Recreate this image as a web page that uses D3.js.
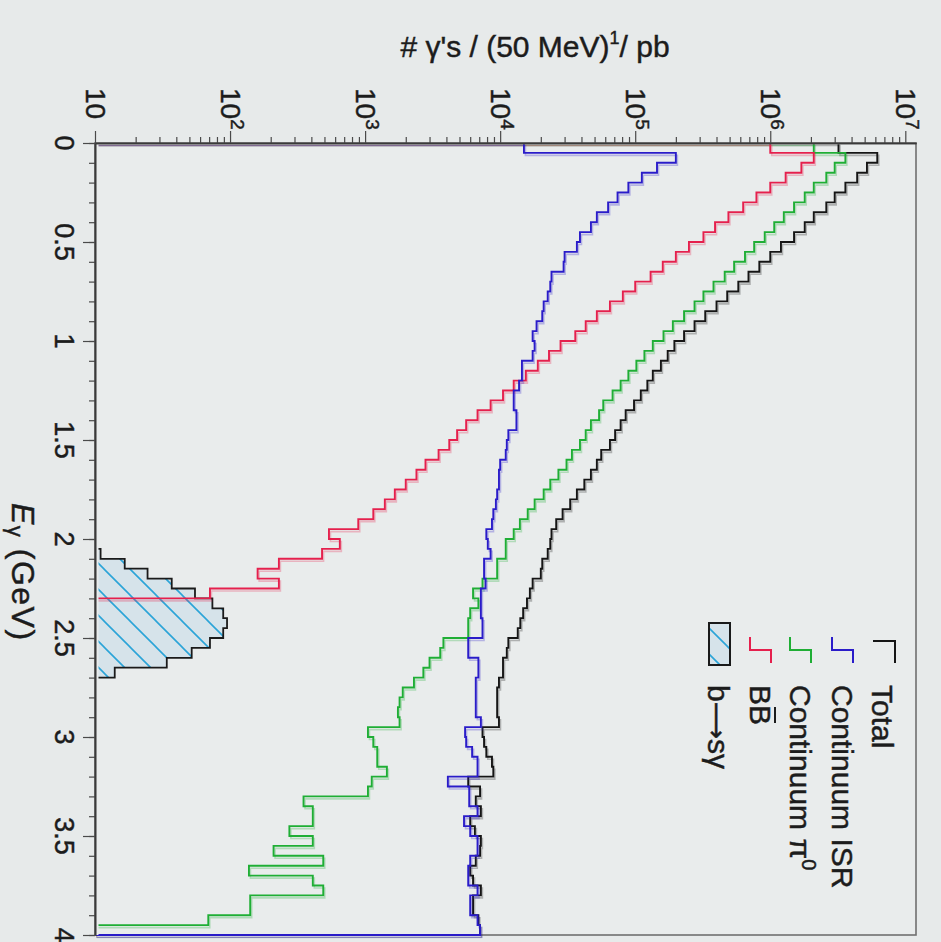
<!DOCTYPE html>
<html>
<head>
<meta charset="utf-8">
<script src="https://cdn.jsdelivr.net/npm/d3@7"></script>
<style>
  body { margin: 0; background: #e7eaea; }
  text { font-family: "Liberation Sans", Arial, Helvetica, sans-serif; fill: #1c1c1c; stroke: #1c1c1c; stroke-width: 0.45px; }
  .axis .domain { stroke: #3a3a3a; stroke-width: 1.6px; }
  .axis .tick line { stroke: #4a4a4a; stroke-width: 1.2px; }
</style>
</head>
<body>
<div id="chart"></div>
<script>
// 80 bins of 50 MeV, E_gamma from 0 to 4 GeV. (photons / 50 MeV / pb).
var binWidth = 0.05;
var nBins = 80;

var total = [3.2e6, 6.2e6, 5.2e6, 4.4e6, 3.6e6, 3.0e6, 2.6e6, 2.1e6, 1.8e6, 1.5e6,
  1.2e6, 1.0e6, 8.3e5, 6.9e5, 5.8e5, 4.8e5, 4.0e5, 3.3e5, 2.75e5, 2.3e5,
  1.95e5, 1.74e5, 1.55e5, 1.35e5, 1.23e5, 1.1e5, 9.8e4, 8.5e4, 7.8e4, 7.1e4,
  6.5e4, 5.6e4, 5.2e4, 4.7e4, 4.2e4, 3.7e4, 3.3e4, 2.9e4, 2.6e4, 2.4e4,
  2.35e4, 2.25e4, 2.05e4, 2.0e4, 1.74e4, 1.66e4, 1.58e4, 1.48e4, 1.41e4, 1.35e4,
  1.15e4, 1.12e4, 1.05e4, 1.05e4, 9800, 9500, 9500, 9500, 9800, 7400,
  7600, 7900, 8700, 8900, 5800, 7100, 6600, 7200, 6000, 6500,
  7200, 7100, 6600, 6000, 6300, 7200, 6300, 6300, 6900, 7100];

var contISR = [1.5e4, 2.0e5, 1.45e5, 1.12e5, 8.9e4, 7.4e4, 6.3e4, 5.2e4, 4.7e4, 3.9e4,
  3.7e4, 3.0e4, 2.95e4, 2.4e4, 2.35e4, 2.25e4, 2.1e4, 2.05e4, 1.86e4, 1.74e4,
  1.8e4, 1.74e4, 1.45e4, 1.45e4, 1.38e4, 1.26e4, 1.26e4, 1.32e4, 1.32e4, 1.15e4,
  1.12e4, 1.1e4, 1.0e4, 9800, 9800, 9500, 9300, 8900, 8700, 7900,
  8100, 8500, 7600, 7600, 7800, 7200, 7200, 7200, 7400, 7400,
  5800, 5800, 6900, 6900, 6600, 6600, 6600, 6600, 7200, 5500,
  5600, 6200, 6800, 6800, 4100, 5900, 5900, 6800, 5400, 6000,
  6800, 6800, 6000, 5800, 5800, 6800, 6000, 6000, 6800, 7100];

var contPi0 = [2.1e6, 3.6e6, 3.0e6, 2.6e6, 2.1e6, 1.8e6, 1.5e6, 1.26e6, 1.07e6, 9.1e5,
  7.6e5, 6.5e5, 5.4e5, 4.6e5, 3.8e5, 3.2e5, 2.75e5, 2.3e5, 1.9e5, 1.62e5,
  1.35e5, 1.17e5, 1.02e5, 8.9e4, 7.8e4, 6.8e4, 5.8e4, 5.4e4, 4.7e4, 4.3e4,
  3.9e4, 3.4e4, 3.1e4, 2.7e4, 2.35e4, 2.1e4, 1.8e4, 1.6e4, 1.4e4, 1.26e4,
  1.1e4, 1.1e4, 9500, 9500, 7400, 6300, 6900, 6000, 5800, 5800,
  3800, 3600, 3000, 2700, 2300, 1900, 1800, 1750, 1800, 1050,
  1150, 1230, 1230, 1450, 1120, 1050, 350, 410, 410, 275,
  410, 210, 490, 138, 410, 490, 141, 141, 69, 0];

// BB-bar: bins after the end of the list are empty
var bbbar = [1.0e6, 2.1e6, 1.7e6, 1.3e6, 1.0e6, 7.9e5, 6.3e5, 4.9e5, 3.9e5, 3.2e5,
  2.5e5, 2.0e5, 1.6e5, 1.3e5, 1.0e5, 8.1e4, 6.5e4, 5.2e4, 4.3e4, 3.6e4,
  2.8e4, 2.3e4, 1.9e4, 1.55e4, 1.26e4, 1.05e4, 8500, 6800, 5600, 4800,
  4200, 3500, 2800, 2400, 2000, 1660, 1400, 1150, 890, 540,
  650, 480, 230, 160, 230, 71];

// b -> s gamma signal, non-empty bins start at bin 41 (2.05 GeV)
var bsgFirstBin = 41;
var bsg = [11, 16.6, 24.5, 37, 55, 74, 89, 95, 89, 71, 52, 34, 14];

var decadeTicks = [10, 1e2, 1e3, 1e4, 1e5, 1e6, 1e7];
var decadeExp = ["", "2", "3", "4", "5", "6", "7"];
var eTicks = [0, 0.5, 1, 1.5, 2, 2.5, 3, 3.5, 4];
var eTickLabels = ["0", "0.5", "1", "1.5", "2", "2.5", "3", "3.5", "4"];

var W = 941, H = 942;
var fLeft = 95, fRight = 916, fTop = 143, fBottom = 935;
var yMin = 10, yMax = 1.2e7;

var svg = d3.select("#chart").append("svg")
  .attr("width", W)
  .attr("height", H);

svg.append("rect").attr("width", W).attr("height", H).attr("fill", "#e7eaea");

var x = d3.scaleLog().domain([yMin, yMax]).range([fLeft, fRight]);
var y = d3.scaleLinear().domain([0, 4]).range([fTop, fBottom]);

function xv(v) {
  if (!(v > yMin)) return x(yMin);
  return x(Math.min(v, yMax));
}

function getBin(arr, i, first) {
  first = first || 0;
  var k = i - first;
  return (k >= 0 && k < arr.length) ? arr[k] : 0;
}

// step outline, drawn sideways: energy runs down, counts run right
function histPoints(arr, first) {
  var pts = [[x(yMin), y(0)]];
  for (var i = 0; i < nBins; i++) {
    var v = getBin(arr, i, first);
    pts.push([xv(v), y(i * binWidth)]);
    pts.push([xv(v), y((i + 1) * binWidth)]);
  }
  pts.push([x(yMin), y(4)]);
  return pts;
}

var line = d3.line();

var defs = svg.append("defs");
var pat = defs.append("pattern")
  .attr("id", "hatch")
  .attr("patternUnits", "userSpaceOnUse")
  .attr("width", 26).attr("height", 26)
  .attr("patternTransform", "translate(0,-3)");
pat.append("rect").attr("width", 26).attr("height", 26).attr("fill", "#d6e3ea");
pat.append("path").attr("d", "M-2,-2L28,28M-2,24L2,28M24,-2L28,2")
  .attr("stroke", "#2ba4d8").attr("stroke-width", 1.6);

// keep the sideways histograms off the two axis lines, but let them show on the bottom edge
defs.append("clipPath").attr("id", "plotclip")
  .append("rect")
  .attr("x", fLeft + 1.2).attr("y", fTop + 1.2)
  .attr("width", fRight - fLeft).attr("height", fBottom - fTop + 2);

// frame
svg.append("rect")
  .attr("x", fLeft).attr("y", fTop)
  .attr("width", fRight - fLeft).attr("height", fBottom - fTop)
  .attr("fill", "#e9ecec")
  .attr("stroke", "#707070").attr("stroke-width", 1.6);

var plot = svg.append("g").attr("clip-path", "url(#plotclip)");

// b -> s gamma filled histogram
plot.append("path")
  .attr("d", line(histPoints(bsg, bsgFirstBin)) + "Z")
  .attr("fill", "url(#hatch)")
  .attr("stroke", "#1a1a1a")
  .attr("stroke-width", 1.8);

var series = [
  { name: "total", data: total, color: "#151515" },
  { name: "pi0", data: contPi0, color: "#1fae35" },
  { name: "bbbar", data: bbbar, color: "#e5204d" },
  { name: "isr", data: contISR, color: "#2a1cc9" }
];

series.forEach(function(s) {
  var d = line(histPoints(s.data, 0));
  // faint doubled copy, like the scanned print
  plot.append("path")
    .attr("d", d)
    .attr("fill", "none")
    .attr("stroke", s.color)
    .attr("stroke-opacity", 0.28)
    .attr("stroke-width", 1.6)
    .attr("transform", "translate(1.5,2.5)");
  plot.append("path")
    .attr("d", d)
    .attr("fill", "none")
    .attr("stroke", s.color)
    .attr("stroke-width", 1.9);
});

// cover the doubled copy where it runs along the left axis
svg.append("rect")
  .attr("x", fLeft).attr("y", fTop).attr("width", 3.5).attr("height", fBottom - fTop)
  .attr("fill", "#e9ecec");

// axes
var minorLog = [];
for (var e = 1; e < 7; e++) {
  for (var m = 2; m <= 9; m++) minorLog.push(m * Math.pow(10, e));
}
svg.append("g").attr("class", "axis")
  .attr("transform", "translate(0," + fTop + ")")
  .call(d3.axisTop(x).tickValues(minorLog).tickSize(6).tickSizeOuter(0).tickFormat(""));
svg.append("g").attr("class", "axis")
  .attr("transform", "translate(0," + fTop + ")")
  .call(d3.axisTop(x).tickValues(decadeTicks).tickSize(12).tickSizeOuter(0).tickFormat(""));

var minorE = d3.range(0, 4.0001, 0.1);
svg.append("g").attr("class", "axis")
  .attr("transform", "translate(" + fLeft + ",0)")
  .call(d3.axisLeft(y).tickValues(minorE).tickSize(6).tickSizeOuter(0).tickFormat(""));
svg.append("g").attr("class", "axis")
  .attr("transform", "translate(" + fLeft + ",0)")
  .call(d3.axisLeft(y).tickValues(eTicks).tickSize(12).tickSizeOuter(0).tickFormat(""));

// top tick labels (rotated)
decadeTicks.forEach(function(t, i) {
  var g = svg.append("g")
    .attr("transform", "translate(" + (x(t) - 9) + ",88) rotate(90)");
  var tx = g.append("text").attr("font-size", 28).text("10");
  if (decadeExp[i]) {
    tx.append("tspan").attr("font-size", 19).attr("dy", -10).text(decadeExp[i]);
  }
});

// left tick labels (rotated)
eTicks.forEach(function(t, i) {
  svg.append("g")
    .attr("transform", "translate(55," + y(t) + ") rotate(90)")
    .append("text")
    .attr("font-size", 27)
    .attr("text-anchor", "middle")
    .text(eTickLabels[i]);
});

// axis titles
var yt = svg.append("text")
  .attr("x", 535).attr("y", 57)
  .attr("text-anchor", "middle")
  .attr("font-size", 30);
yt.append("tspan").text("# \u03b3's / (50 MeV)");
yt.append("tspan").attr("font-size", 18).attr("dy", -13).text("1");
yt.append("tspan").attr("dy", 13).text("/ pb");

var xt = svg.append("g")
  .attr("transform", "translate(12,503) rotate(90)")
  .append("text").attr("font-size", 32).attr("letter-spacing", 1.5);
xt.append("tspan").attr("font-style", "italic").text("E");
xt.append("tspan").attr("font-size", 22).attr("dy", 4).text("\u03b3");
xt.append("tspan").attr("dy", -4).text(" (GeV)");

// legend
var legend = svg.append("g");
var legItems = [
  { label: "Total", color: "#151515", bx: 872, sx: 873, type: "corner" },
  { label: "Continuum ISR", color: "#2a1cc9", bx: 832, sx: 832, type: "step" },
  { label: "Continuum \u03c0", sup: "0", color: "#1fae35", bx: 790, sx: 790, type: "step" },
  { label: "BB", color: "#e5204d", bx: 750, sx: 750, type: "step", bar: true },
  { label: "b", arrow: true, color: "#1a1a1a", bx: 708, sx: 709, type: "box" }
];

legItems.forEach(function(it) {
  if (it.type === "corner") {
    legend.append("path")
      .attr("d", "M" + it.sx + ",641H" + (it.sx + 22) + "V663")
      .attr("fill", "none").attr("stroke", it.color).attr("stroke-width", 2);
  } else if (it.type === "step") {
    legend.append("path")
      .attr("d", "M" + it.sx + ",637V650H" + (it.sx + 21) + "V663")
      .attr("fill", "none").attr("stroke", it.color).attr("stroke-width", 2);
  } else {
    legend.append("rect")
      .attr("x", it.sx).attr("y", 623).attr("width", 21).attr("height", 42)
      .attr("fill", "url(#hatch)")
      .attr("stroke", it.color).attr("stroke-width", 2);
  }
  var g = legend.append("g")
    .attr("transform", "translate(" + it.bx + ",685) rotate(90)");
  var t = g.append("text").attr("font-size", 30).text(it.label);
  if (it.arrow) {
    t.append("tspan").attr("font-family", "DejaVu Sans").attr("font-size", 26).text("\u27f6");
    t.append("tspan").text("s\u03b3");
  }
  if (it.sup) {
    t.append("tspan").attr("font-size", 20).attr("dy", -12).text(it.sup);
  }
  if (it.bar) {
    var node = t.node();
    var w1 = node.getSubStringLength(0, 1);
    var w2 = node.getSubStringLength(1, 1);
    g.append("line")
      .attr("x1", w1 + 2).attr("x2", w1 + w2 - 2)
      .attr("y1", -25).attr("y2", -25)
      .attr("stroke", "#1c1c1c").attr("stroke-width", 2);
  }
});
</script>
</body>
</html>
